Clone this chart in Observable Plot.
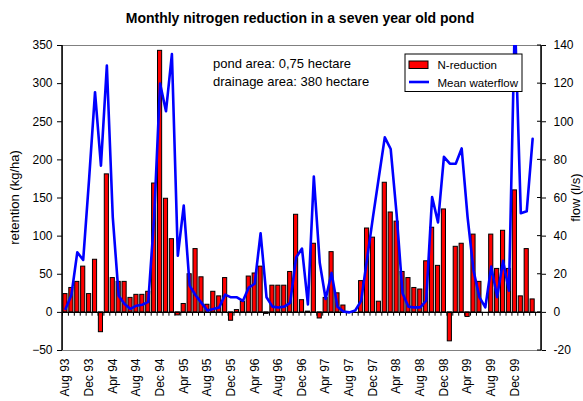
<!DOCTYPE html>
<html><head><meta charset="utf-8">
<script src="https://cdn.jsdelivr.net/npm/d3@7"></script>
<script src="https://cdn.jsdelivr.net/npm/@observablehq/plot@0.6"></script>
<style>
body{margin:0;background:#fff;}
svg{font-family:"Liberation Sans",Arial,sans-serif;}
</style></head><body><div id="chart"></div>
<script>
const months = [
  "Aug 93","Sep 93","Oct 93","Nov 93","Dec 93",
  "Jan 94","Feb 94","Mar 94","Apr 94","May 94","Jun 94","Jul 94","Aug 94","Sep 94","Oct 94","Nov 94","Dec 94",
  "Jan 95","Feb 95","Mar 95","Apr 95","May 95","Jun 95","Jul 95","Aug 95","Sep 95","Oct 95","Nov 95","Dec 95",
  "Jan 96","Feb 96","Mar 96","Apr 96","May 96","Jun 96","Jul 96","Aug 96","Sep 96","Oct 96","Nov 96","Dec 96",
  "Jan 97","Feb 97","Mar 97","Apr 97","May 97","Jun 97","Jul 97","Aug 97","Sep 97","Oct 97","Nov 97","Dec 97",
  "Jan 98","Feb 98","Mar 98","Apr 98","May 98","Jun 98","Jul 98","Aug 98","Sep 98","Oct 98","Nov 98","Dec 98",
  "Jan 99","Feb 99","Mar 99","Apr 99","May 99","Jun 99","Jul 99","Aug 99","Sep 99","Oct 99","Nov 99","Dec 99",
  "Jan 00","Feb 00","Mar 00","Apr 00"
];
// N-reduction, retention (kg/ha), Aug 93 .. Mar 00
const nReduction = [
  24,32,40,60,24,69,-26,181,45,40,
  40,19,23,23,27,169,343,149,96,-4,
  11,50,83,46,10,27,21,45,-11,3,
  14,47,51,60,-2,35,35,35,53,128,
  16,1,90,-8,19,79,25,9,0,0,
  41,110,98,14,170,131,119,53,45,32,
  30,67,111,61,135,-38,86,90,-6,102,
  40,0,102,57,107,57,160,21,83,17
];
// Mean waterflow (l/s), Aug 93 .. Mar 00
const waterflow = [
  1.8,9,31.5,27.5,70,115.5,77,129.5,50,8.7,
  4.4,1.8,3.5,4,5.5,50,120,105.5,135.5,29.7,
  56,14,9,5,1,1.8,2.6,9.3,7.9,7.9,
  6,13,15,41.5,7.9,3,2.6,3,5,28.8,
  33.5,4.2,71.2,26,7,20.7,3,0.5,0,1,
  6,28,50,71,91.8,85.7,51.6,10,3,2.6,
  2.6,6.1,60.5,47.2,81.6,78,78,86,50,22,
  8,2.6,24,8,27,11.4,155,52,53,91
];
const tickLabels = ["Aug 93","Dec 93","Apr 94","Aug 94","Dec 94","Apr 95","Aug 95","Dec 95","Apr 96","Aug 96","Dec 96","Apr 97","Aug 97","Dec 97","Apr 98","Aug 98","Dec 98","Apr 99","Aug 99","Dec 99"];
const retentionTicks = [-50,0,50,100,150,200,250,300,350];
const flowTicks = [-20,0,20,40,60,80,100,120,140];
const title = "Monthly nitrogen reduction in a seven year old pond";
const notes = ["pond area: 0,75 hectare","drainage area: 380 hectare"];
const seriesNames = ["N-reduction","Mean waterflow"];

const data = nReduction.map((v,i)=>({month: months[i], n: v, flow: waterflow[i]}));
const k = retentionTicks[retentionTicks.length-1] / flowTicks[flowTicks.length-1]; // secondary axis ratio

const W=583, H=401, mL=62, mR=42, mT=45, mB=51;
const step = (W - mL - mR) / months.length;

const plot = Plot.plot({
  width: W, height: H, marginLeft: mL, marginRight: mR, marginTop: mT, marginBottom: mB,
  style: {fontFamily: "Liberation Sans, Arial, sans-serif", fontSize: "12px", color: "#000", background: "#fff"},
  x: {type: "band", domain: months, paddingInner: 0.3, paddingOuter: 0.15, axis: null},
  y: {domain: [retentionTicks[0], retentionTicks[retentionTicks.length-1]], axis: null},
  marks: [
    Plot.frame({stroke: "#808080"}),
    Plot.barY(data, {x: "month", y: "n", fill: "#ff0000", stroke: "#000", strokeWidth: 1}),
    Plot.ruleY([0], {stroke: "#000", strokeWidth: 1.2}),
    Plot.ruleX(months, {x: d => d, y1: 0, y2: -5, dx: -step/2, stroke: "#000"}),
    Plot.line(data, {x: "month", y: d => d.flow * k, stroke: "#0000ff", strokeWidth: 2.6, clip: true}),
    Plot.axisX({ticks: tickLabels, tickRotate: -90, tickSize: 0, tickPadding: 8, anchor: "bottom", label: null}),
    Plot.axisY({anchor: "left", ticks: retentionTicks, tickSize: 5, tickPadding: 5, label: null}),
    Plot.axisY({anchor: "right", ticks: flowTicks.map(f => f * k), tickFormat: d => d / k, tickSize: 4, tickPadding: 8, label: null})
  ]
});
document.getElementById("chart").appendChild(plot);

const svg = d3.select(plot);
const ff = "Liberation Sans, Arial, sans-serif";
// axis lines
svg.append("line").attr("x1", mL).attr("x2", mL).attr("y1", mT).attr("y2", H - mB).attr("stroke", "#000").attr("stroke-width", 1.5);
svg.append("line").attr("x1", W - mR).attr("x2", W - mR).attr("y1", mT).attr("y2", H - mB).attr("stroke", "#000").attr("stroke-width", 1.5);
// inward part of right ticks
const ys = plot.scale("y");
svg.append("g").selectAll("line").data(retentionTicks).join("line")
  .attr("x1", W - mR - 4).attr("x2", W - mR).attr("y1", d => ys.apply(d)).attr("y2", d => ys.apply(d)).attr("stroke", "#000");

// title
svg.append("text").attr("x", 300).attr("y", 23).attr("text-anchor", "middle")
  .attr("font-family", ff).attr("font-size", 14).attr("font-weight", "bold").text(title);
// axis titles
svg.append("text").attr("transform", `translate(19,${(mT + H - mB)/2}) rotate(-90)`).attr("text-anchor", "middle")
  .attr("font-family", ff).attr("font-size", 13).text("retention (kg/ha)");
svg.append("text").attr("transform", `translate(580,${(mT + H - mB)/2}) rotate(-90)`).attr("text-anchor", "middle")
  .attr("font-family", ff).attr("font-size", 13).text("flow (l/s)");
// notes
notes.forEach((t, i) => svg.append("text").attr("x", 213).attr("y", 68 + i * 17.5).attr("text-anchor", "start")
  .attr("font-family", ff).attr("font-size", 13).text(t));
// legend
const lg = svg.append("g");
lg.append("rect").attr("x", 405).attr("y", 54).attr("width", 117).attr("height", 37.5).attr("fill", "#fff").attr("stroke", "#000");
lg.append("rect").attr("x", 409).attr("y", 61).attr("width", 19).attr("height", 7.5).attr("fill", "#ff0000").attr("stroke", "#000");
lg.append("line").attr("x1", 409).attr("x2", 429).attr("y1", 82).attr("y2", 82).attr("stroke", "#0000ff").attr("stroke-width", 2.6);
seriesNames.forEach((t, i) => lg.append("text").attr("x", 437.5).attr("y", 69 + i * 18).attr("text-anchor", "start")
  .attr("font-family", ff).attr("font-size", 11.5).text(t));
</script></body></html>
